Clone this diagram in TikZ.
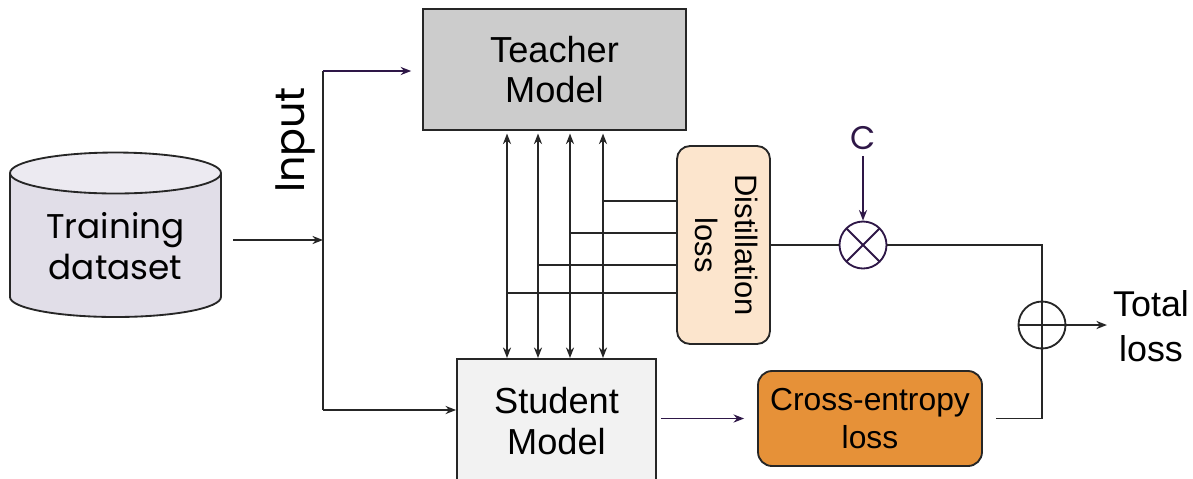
\documentclass[tikz,border=0pt]{standalone}
\usepackage{fontspec}
\setmainfont{Liberation Sans}
\newfontfamily\geofont{Poppins}
\usepackage{graphicx}
\usetikzlibrary{arrows.meta}

\definecolor{linecol}{HTML}{262626}
\definecolor{purp}{HTML}{2E1747}
\definecolor{teachfill}{HTML}{CCCCCC}
\definecolor{studfill}{HTML}{F2F2F2}
\definecolor{distfill}{HTML}{FCE5CD}
\definecolor{cefill}{HTML}{E69138}
\definecolor{cylbody}{HTML}{E1DEE8}
\definecolor{cyltop}{HTML}{ECEAF1}

\tikzset{
  ln/.style={draw=linecol, line width=1.05pt},
  tip/.style={-{Stealth[length=6pt,width=4.6pt]}},
  dbltip/.style={{Stealth[length=6pt,width=4.6pt]}-{Stealth[length=6pt,width=4.6pt]}},
  modelbox/.style={ln, rectangle, align=center, font=\fontsize{20.6}{23}\selectfont},
  lossbox/.style={ln, rectangle, rounded corners=0.28cm, align=center},
  opcirc/.style={circle, minimum size=0.94cm, inner sep=0pt, line width=1.05pt},
  mult/.style={opcirc, draw=purp, path picture={
      \draw[purp, line width=1.05pt]
        (path picture bounding box.north west) -- (path picture bounding box.south east)
        (path picture bounding box.north east) -- (path picture bounding box.south west);}},
  add/.style={opcirc, draw=linecol, path picture={
      \draw[linecol, line width=1.05pt]
        (path picture bounding box.west) -- (path picture bounding box.east)
        (path picture bounding box.north) -- (path picture bounding box.south);}},
}

\begin{document}
\begin{tikzpicture}[x=0.02cm, y=-0.02cm]
\useasboundingbox (0,0) rectangle (1193,478);

% training data store (cylinder)
\fill[cylbody] (10,173) -- (10,297)
  arc[start angle=180, end angle=360, x radius=2.11cm, y radius=0.4cm]
  -- (221,173) -- cycle;
\draw[ln] (10,173) -- (10,297)
  arc[start angle=180, end angle=360, x radius=2.11cm, y radius=0.4cm]
  -- (221,173);
\draw[ln, fill=cyltop] (115.5,173) ellipse [x radius=2.11cm, y radius=0.41cm];
\node[align=center, font=\geofont\fontsize{19.5}{23.5}\selectfont] (data) at (115.5,246) {Training\\dataset};

\node[font=\geofont\fontsize{23.5}{24}\selectfont, rotate=90] (input) at (295,140) {Input};

% models
\node[modelbox, fill=teachfill, minimum width=5.26cm, minimum height=2.42cm] (teacher) at (554.5,69.5) {Teacher\\Model};
\node[modelbox, fill=studfill, minimum width=3.98cm, minimum height=3cm, anchor=north] (student) at (556.5,358) {};
\node[align=center, font=\fontsize{20.6}{23.5}\selectfont] (studentlbl) at (556.5,421) {Student\\Model};

% losses
\node[lossbox, fill=distfill, minimum width=1.86cm, minimum height=3.96cm, rounded corners=0.26cm] (dist) at (723.5,245)
  {\fontsize{17.6}{22.7}\selectfont\rotatebox{-90}{\begin{tabular}{@{}c@{}}Distillation\\loss\end{tabular}}};
\node[lossbox, fill=cefill, minimum width=4.48cm, minimum height=1.9cm, font=\fontsize{18.1}{21.5}\selectfont] (ce) at (870,418.5) {Cross-entropy\\loss};

\node[mult] (mult) at (863,245) {};
\node[add] (add) at (1042,325) {};
\node[font=\geofont\fontsize{18.6}{20}\selectfont, text=purp] (cval) at (863,138) {C};
\node[align=center, font=\fontsize{20.4}{25.5}\selectfont] (total) at (1151,326) {Total\\loss};

% input routing
\coordinate (dataout) at (233,240);
\coordinate (split) at (323,240);
\coordinate (topturn) at (323,71);
\coordinate (botturn) at (323,410);
\draw[ln, tip] (dataout) -- (split);
\draw[ln] (topturn) -- (botturn);
\draw[ln, draw=purp, tip, shorten >=6.2pt] (topturn) -- (teacher.west |- topturn);
\draw[ln, tip] (botturn) -- (student.west |- botturn);

% teacher/student exchanges and taps into the distillation loss
\foreach \xx in {507,538,570,603}
  \draw[ln, dbltip, shorten <=1.5pt] (teacher.south -| \xx,0) -- (student.north -| \xx,0);
\foreach \xx/\yy in {603/201, 570/233, 538/265, 507/293}
  \draw[ln] (\xx,\yy) -- (dist.west |- 0,\yy);

% loss combination
\draw[ln] (dist.east) -- (mult.west);
\draw[ln, draw=purp, tip] (cval) -- (mult);
\draw[ln] (mult.east) -| (add.north);
\draw[ln, shorten <=7.4pt] (ce.east) -| (add.south);
\draw[ln, tip] (add.east) -- (total.west |- add.east);
\draw[ln, draw=purp, tip, shorten <=2.3pt, shorten >=7.4pt] (student.east |- ce.west) -- (ce.west);
\end{tikzpicture}
\end{document}
